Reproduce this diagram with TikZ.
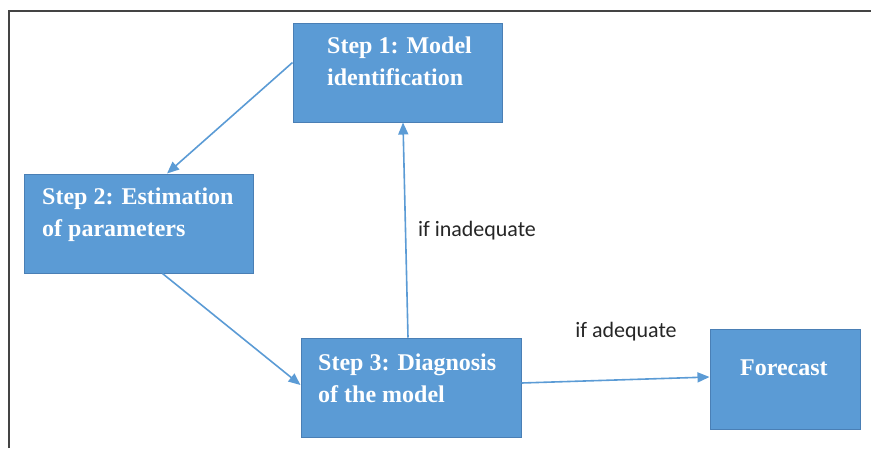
\documentclass[tikz,border=0pt]{standalone}
\usepackage{fontspec}
\setmainfont{Liberation Serif}
\newfontfamily\labelfont{Carlito}
\usetikzlibrary{arrows.meta}
\definecolor{boxblue}{HTML}{5B9BD5}
\definecolor{boxedge}{HTML}{4A7FB5}
\definecolor{arrowblue}{HTML}{5B9BD5}
\definecolor{framegray}{HTML}{444444}
\tikzset{
  stepbox/.style={draw=boxedge, fill=boxblue, line width=1pt, inner sep=0pt, rectangle},
  steptext/.style={text=white, font=\fontsize{24}{31.5}\selectfont\bfseries, align=left, inner sep=0pt, anchor=north west},
  conn/.style={draw=arrowblue, line width=1.6pt, -{Triangle[length=12pt,width=10pt]}},
  cond/.style={font=\labelfont\fontsize{22}{24}\selectfont, text=black!85, inner sep=0pt, anchor=base}
}
\begin{document}
\begin{tikzpicture}[x=1pt,y=-1pt]
\useasboundingbox (0,0) rectangle (871,448);
% frame
\draw[framegray, line width=2pt] (8.5,448) -- (8.5,10.5) -- (871,10.5);
% boxes
\node[stepbox, minimum width=209pt, minimum height=99pt] (s1) at (397.5,72.5) {};
\node[stepbox, minimum width=229pt, minimum height=99pt] (s2) at (138.5,223.5) {};
\node[stepbox, minimum width=220pt, minimum height=99pt] (s3) at (411,387.5) {};
\node[stepbox, minimum width=150pt, minimum height=100pt] (fc) at (785,379) {};
% texts
\node[steptext] (t1) at (327,36.7) {Step 1: Model\\identification};
\node[steptext] (t2) at (42,187.7) {Step 2: Estimation\\of parameters};
\node[steptext] (t3) at (318,353.7) {Step 3: Diagnosis\\of the model};
\node[steptext] (t4) at (740,359.7) {Forecast};
% connectors
\draw[conn] ([yshift=10pt]s1.west) -- ([xshift=28.5pt]s2.north);
\draw[conn] ([xshift=24pt]s2.south) -- ([yshift=2.5pt]s3.west);
\draw[conn] ([xshift=-3pt]s3.north) -- ([xshift=5.5pt]s1.south);
\draw[conn] ([yshift=4.5pt]s3.east) -- ([yshift=2pt]fc.west);
% labels
\node[cond] (l1) at (477,236) {if inadequate};
\node[cond] (l2) at (626,337) {if adequate};
\end{tikzpicture}
\end{document}
